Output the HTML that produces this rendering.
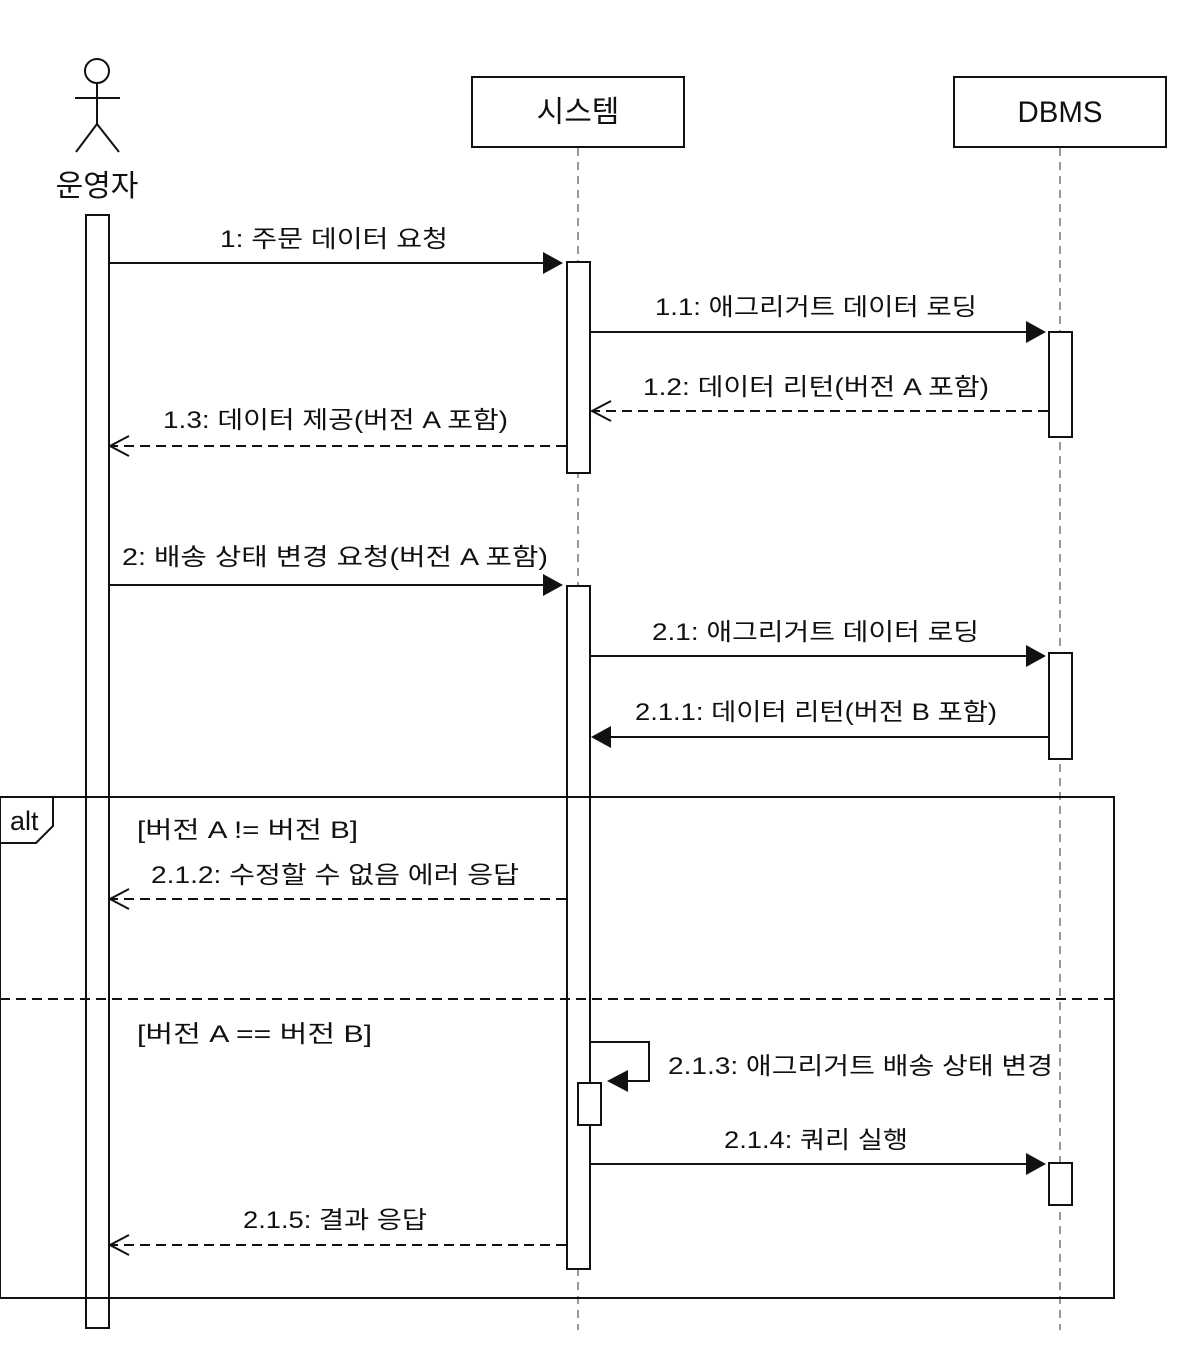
<!DOCTYPE html>
<html><head><meta charset="utf-8"><style>
html,body{margin:0;padding:0;background:#fff;}
svg{display:block;}
text{font-family:"Liberation Sans","Noto Sans CJK KR",sans-serif;fill:#111;}
</style></head><body>
<svg width="1198" height="1370" viewBox="0 0 1198 1370" xmlns="http://www.w3.org/2000/svg">
<g stroke="#111" stroke-width="2" fill="none">
  <line x1="578" y1="148" x2="578" y2="1330" stroke="#999" stroke-dasharray="8,6"/>
  <line x1="1060" y1="148" x2="1060" y2="1330" stroke="#999" stroke-dasharray="8,6"/>
  <circle cx="97" cy="71" r="12"/>
  <line x1="97" y1="83" x2="97" y2="124"/>
  <line x1="75" y1="98" x2="120" y2="98"/>
  <line x1="97" y1="124" x2="76" y2="152"/>
  <line x1="97" y1="124" x2="119" y2="152"/>
  <rect x="472" y="77" width="212" height="70" fill="#fff"/>
  <rect x="954" y="77" width="212" height="70" fill="#fff"/>
  <rect x="86" y="215" width="23" height="1113" fill="#fff"/>
  <rect x="567" y="262" width="23" height="211" fill="#fff"/>
  <rect x="1049" y="332" width="23" height="105" fill="#fff"/>
  <rect x="567" y="586" width="23" height="683" fill="#fff"/>
  <rect x="1049" y="653" width="23" height="106" fill="#fff"/>
  <rect x="1049" y="1163" width="23" height="42" fill="#fff"/>
  <rect x="0" y="797" width="1114" height="501"/>
  <polyline points="0,797 53,797 53,826 36,843 0,843"/>
  <line x1="0" y1="999" x2="1114" y2="999" stroke-dasharray="10,6"/>
  <line x1="109" y1="263" x2="545" y2="263"/>
  <line x1="590" y1="332" x2="1027" y2="332"/>
  <line x1="1048" y1="411" x2="593" y2="411" stroke-dasharray="10,6"/>
  <polyline points="611,401 592,411 611,421"/>
  <line x1="566" y1="446" x2="111" y2="446" stroke-dasharray="10,6"/>
  <polyline points="129,436 110,446 129,456"/>
  <line x1="109" y1="585" x2="545" y2="585"/>
  <line x1="590" y1="656" x2="1027" y2="656"/>
  <line x1="1048" y1="737" x2="610" y2="737"/>
  <line x1="566" y1="899" x2="111" y2="899" stroke-dasharray="10,6"/>
  <polyline points="129,889 110,899 129,909"/>
  <polyline points="590,1042 649,1042 649,1081 626,1081"/>
  <rect x="578" y="1083" width="23" height="42" fill="#fff"/>
  <line x1="590" y1="1164" x2="1027" y2="1164"/>
  <line x1="566" y1="1245" x2="111" y2="1245" stroke-dasharray="10,6"/>
  <polyline points="129,1235 110,1245 129,1255"/>
</g>
<g fill="#111">
  <polygon points="563,263 543,252 543,274"/>
  <polygon points="1046,332 1026,321 1026,343"/>
  <polygon points="563,585 543,574 543,596"/>
  <polygon points="1046,656 1026,645 1026,667"/>
  <polygon points="591,737 611,726 611,748"/>
  <polygon points="607,1081 628,1070 628,1092"/>
  <polygon points="1046,1164 1026,1153 1026,1175"/>
</g>
<g font-size="30">
  <text x="578" y="122" text-anchor="middle">시스템</text>
  <text x="1060" y="122" text-anchor="middle" textLength="85" lengthAdjust="spacingAndGlyphs">DBMS</text>
  <text x="97" y="196" text-anchor="middle">운영자</text>
</g>
<g font-size="24">
  <text x="10" y="830" font-size="27">alt</text>
  <text x="220" y="247" textLength="228" lengthAdjust="spacingAndGlyphs">1: 주문 데이터 요청</text>
  <text x="655" y="315" textLength="322" lengthAdjust="spacingAndGlyphs">1.1: 애그리거트 데이터 로딩</text>
  <text x="643" y="395" textLength="346" lengthAdjust="spacingAndGlyphs">1.2: 데이터 리턴(버전 A 포함)</text>
  <text x="163" y="428" textLength="345" lengthAdjust="spacingAndGlyphs">1.3: 데이터 제공(버전 A 포함)</text>
  <text x="122" y="565" textLength="426" lengthAdjust="spacingAndGlyphs">2: 배송 상태 변경 요청(버전 A 포함)</text>
  <text x="652" y="640" textLength="327" lengthAdjust="spacingAndGlyphs">2.1: 애그리거트 데이터 로딩</text>
  <text x="635" y="720" textLength="362" lengthAdjust="spacingAndGlyphs">2.1.1: 데이터 리턴(버전 B 포함)</text>
  <text x="137" y="838" textLength="221" lengthAdjust="spacingAndGlyphs">[버전 A != 버전 B]</text>
  <text x="151" y="883" textLength="368" lengthAdjust="spacingAndGlyphs">2.1.2: 수정할 수 없음 에러 응답</text>
  <text x="137" y="1042" textLength="235" lengthAdjust="spacingAndGlyphs">[버전 A == 버전 B]</text>
  <text x="668" y="1074" textLength="385" lengthAdjust="spacingAndGlyphs">2.1.3: 애그리거트 배송 상태 변경</text>
  <text x="724" y="1148" textLength="184" lengthAdjust="spacingAndGlyphs">2.1.4: 쿼리 실행</text>
  <text x="243" y="1228" textLength="184" lengthAdjust="spacingAndGlyphs">2.1.5: 결과 응답</text>
</g>
</svg>
</body></html>
